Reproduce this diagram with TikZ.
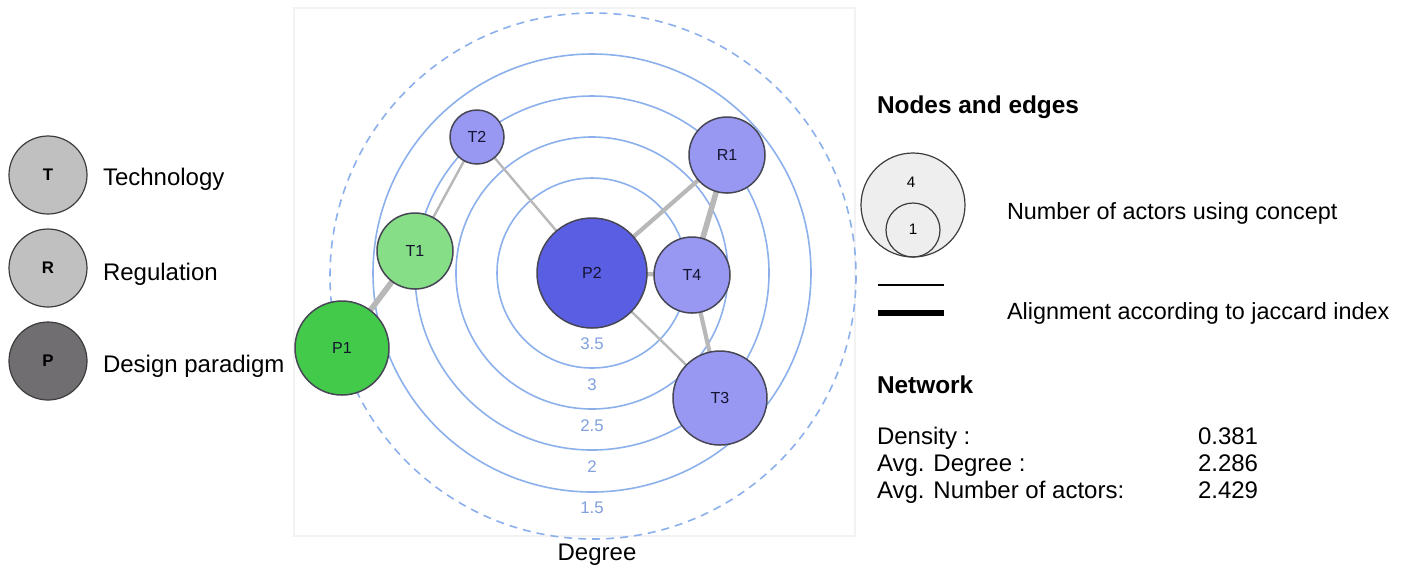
\documentclass[tikz,border=0pt]{standalone}
\usepackage{fontspec}
\setmainfont{Liberation Sans}
\usetikzlibrary{backgrounds}
\definecolor{lav}{RGB}{152,152,242}
\definecolor{ptwo}{RGB}{90,94,226}
\definecolor{tone}{RGB}{134,222,134}
\definecolor{pone}{RGB}{68,202,74}
\definecolor{nodeborder}{RGB}{70,70,85}
\definecolor{labeltext}{RGB}{20,20,50}
\definecolor{ringcol}{RGB}{140,176,236}
\definecolor{ringlab}{RGB}{128,160,222}
\definecolor{edgecol}{RGB}{184,184,184}
\definecolor{legT}{RGB}{192,192,192}
\definecolor{legP}{RGB}{112,110,112}
\definecolor{legborder}{RGB}{60,60,60}
\definecolor{bigfill}{RGB}{238,238,238}
\definecolor{panelline}{RGB}{242,242,242}
\begin{document}
\begin{tikzpicture}[x=0.5pt,y=-0.5pt,
  every node/.style={inner sep=0pt, outer sep=0pt},
  concept/.style={circle, draw=nodeborder, line width=0.75pt, text=labeltext, font=\fontsize{8}{9}\selectfont},
  legcirc/.style={circle, draw=legborder, line width=0.6pt, minimum size=39pt, font=\bfseries\fontsize{8.4}{9}\selectfont},
  txt/.style={anchor=west, font=\fontsize{12}{14}\selectfont, text height=8.6pt, text depth=0pt},
  btxt/.style={anchor=west, font=\bfseries\fontsize{12.2}{14}\selectfont, text height=8.8pt, text depth=0pt},
  ring/.style={draw=ringcol, line width=0.8pt},
  ringlabel/.style={text=ringlab, font=\fontsize{8.4}{9}\selectfont},
  edgethin/.style={draw=edgecol, line width=1.2pt},
  edgemid/.style={draw=edgecol, line width=2.1pt},
  edgethick/.style={draw=edgecol, line width=2.8pt}
]
\useasboundingbox (0,0) rectangle (1403,570);

% left legend
\node[legcirc, fill=legT] (lT) at (48,175) {T};
\node[legcirc, fill=legT] (lR) at (48,268) {R};
\node[legcirc, fill=legP] (lP) at (48,361) {P};
\node[txt] (tT) at (103,177) {Technology};
\node[txt] (tR) at (103,272) {Regulation};
\node[txt] (tP) at (103,364) {Design paradigm};

% concept nodes
\node[concept, fill=lav, minimum size=27pt] (T2) at (477,137) {T2};
\node[concept, fill=lav, minimum size=38pt] (R1) at (727,155) {R1};
\node[concept, fill=tone, minimum size=38pt] (T1) at (415,251) {T1};
\node[concept, fill=pone, minimum size=47pt] (P1) at (342,348) {P1};
\node[concept, fill=ptwo, minimum size=55pt] (P2) at (592,273) {P2};
\node[concept, fill=lav, minimum size=38pt] (T4) at (692,275) {T4};
\node[concept, fill=lav, minimum size=47pt] (T3) at (720,398) {T3};

\begin{scope}[on background layer]
  \draw[draw=panelline, fill=white, line width=0.8pt] (294,8) rectangle (855,536);
  \coordinate (C) at (592,273);
  \draw[ring] (C) circle[radius=95];
  \draw[ring] (C) circle[radius=136];
  \draw[ring] (C) circle[radius=177];
  \draw[ring] (C) circle[radius=219];
  \draw[draw=ringcol, line width=0.8pt, dash pattern=on 4pt off 3pt] (593,276) circle[radius=263];
  \draw[edgethin] (T2) -- (P2);
  \draw[edgethin] (T2) -- (T1);
  \draw[edgethick] (T1) -- (P1);
  \draw[edgemid] (P2) -- (R1);
  \draw[edgethick] (R1) -- (T4);
  \draw[edgemid] (P2) -- (T4);
  \draw[edgemid] (T4) -- (T3);
  \draw[edgethin] (P2) -- (T3);
\end{scope}

% ring labels
\node[ringlabel] (l35) at (592,344) {3.5};
\node[ringlabel] (l3) at (592,385) {3};
\node[ringlabel] (l25) at (592,426) {2.5};
\node[ringlabel] (l2) at (592,467) {2};
\node[ringlabel] (l15) at (592,508) {1.5};

\node[font=\fontsize{12}{14}\selectfont] (deg) at (597,555) {Degree};

% right legend
\node[btxt] (ne) at (877,105) {Nodes and edges};
\node[circle, draw=legborder, fill=bigfill, line width=0.6pt, minimum size=52pt] (big) at (913,205) {};
\node[circle, draw=legborder, line width=0.6pt, minimum size=27pt] (small) at (913,230) {};
\node[font=\fontsize{7.6}{8}\selectfont] (four) at (911,182) {4};
\node[font=\fontsize{7.6}{8}\selectfont] (one) at (913,229) {1};
\node[txt, font=\fontsize{11.7}{14}\selectfont] (nac) at (1007,211) {Number of actors using concept};
\coordinate (a1) at (878,285);
\coordinate (a2) at (944,285);
\coordinate (b1) at (878,313);
\coordinate (b2) at (944,313);
\draw[line width=1pt] (a1) -- (a2);
\draw[line width=3.4pt] (b1) -- (b2);
\node[txt, font=\fontsize{11.7}{14}\selectfont] (al) at (1007,311) {Alignment according to jaccard index};

\node[btxt] (nw) at (877,385) {Network};
\node[txt] (d1) at (877,436) {Density :};
\node[txt] (d2) at (877,463) {Avg. Degree :};
\node[txt] (d3) at (877,490) {Avg. Number of actors:};
\node[txt] (v1) at (1198,436) {0.381};
\node[txt] (v2) at (1198,463) {2.286};
\node[txt] (v3) at (1198,490) {2.429};
\end{tikzpicture}
\end{document}
